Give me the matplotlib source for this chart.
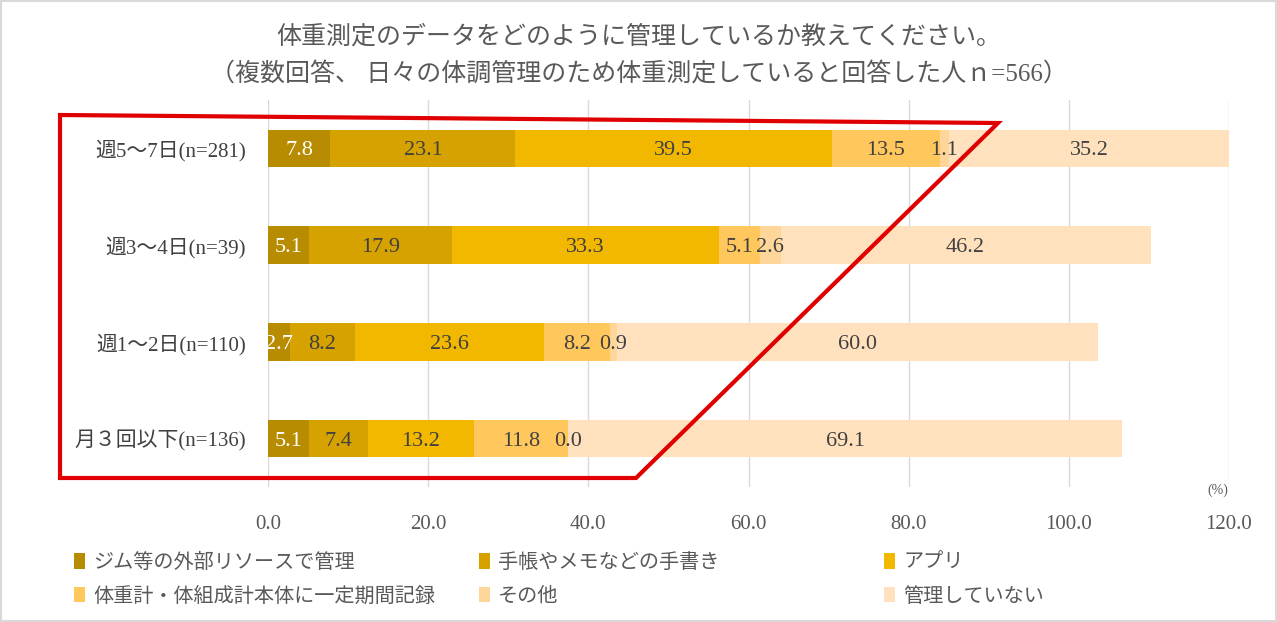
import numpy as np
import matplotlib.pyplot as plt
from matplotlib.patches import Polygon, Rectangle

plt.rcParams['font.family'] = ['Liberation Serif', 'Noto Sans CJK JP', 'DejaVu Sans']

# ----------------------------------------------------------------------
# Data
# ----------------------------------------------------------------------
categories = ["週5〜7日(n=281)", "週3〜4日(n=39)", "週1〜2日(n=110)", "月３回以下(n=136)"]
series_names = ["ジム等の外部リソースで管理", "手帳やメモなどの手書き", "アプリ",
                "体重計・体組成計本体に一定期間記録", "その他", "管理していない"]
gym = [7.8, 5.1, 2.7, 5.1]
handwritten = [23.1, 17.9, 8.2, 7.4]
app = [39.5, 33.3, 23.6, 13.2]
scale_memory = [13.5, 5.1, 8.2, 11.8]
other = [1.1, 2.6, 0.9, 0.0]
not_managed = [35.2, 46.2, 60.0, 69.1]
x_ticks = [0, 20, 40, 60, 80, 100, 120]

series = [gym, handwritten, app, scale_memory, other, not_managed]
colors = ["#B88C00", "#D6A200", "#F2B800", "#FFC75C", "#FFD699", "#FFE2BD"]
label_colors = ["white", "#404040", "#404040", "#404040", "#404040", "#404040"]

fig = plt.figure(figsize=(12.77, 6.22), dpi=100)
ax = fig.add_axes([268 / 1277, 1 - 487 / 622, 961 / 1277, 387 / 622])

y = np.arange(len(categories))
left = np.zeros(len(categories))
handles = []
for name, vals, col, lcol in zip(series_names, series, colors, label_colors):
    vals = np.array(vals)
    bars = ax.barh(y, vals, left=left, height=0.39, color=col, label=name, zorder=2)
    handles.append(bars)
    for yi, (l, v) in enumerate(zip(left, vals)):
        ax.text(l + v / 2, yi, f"{v:.1f}", ha="center", va="center_baseline",
                fontsize=16, color=lcol, zorder=3)
    left += vals

ax.set_xlim(0, 120)
ax.set_ylim(3.5, -0.5)
ax.set_xticks(x_ticks)
ax.set_xticklabels([f"{t:.1f}" for t in x_ticks])
ax.set_yticks(y)
ax.set_yticklabels(categories)
ax.tick_params(axis="x", length=0, pad=20, labelsize=15, labelcolor="#595959")
ax.tick_params(axis="y", length=0, pad=16, labelsize=15, labelcolor="#404040")
ax.grid(axis="x", color="#D9D9D9", linewidth=1, zorder=0)
for s in ax.spines.values():
    s.set_visible(False)

fig.text(1218 / 1277, 1 - 490 / 622, "(%)", fontsize=10, color="#595959",
         ha="center", va="center")

# title
fig.text(0.5, 1 - 37 / 622, "体重測定のデータをどのように管理しているか教えてください。",
         ha="center", va="center", fontsize=18, color="#595959")
fig.text(0.5, 1 - 75 / 622, "（複数回答、 日々の体調管理のため体重測定していると回答した人ｎ=566）",
         ha="center", va="center", fontsize=18, color="#595959")

# legend: three columns, two rows
col_x = [56, 461, 866]
for i, cx in enumerate(col_x):
    fig.legend([handles[i], handles[i + 3]], [series_names[i], series_names[i + 3]],
               loc="upper left", bbox_to_anchor=(cx / 1277, 1 - 535 / 622),
               frameon=False, fontsize=14.5, handlelength=0.55, handleheight=0.8,
               handletextpad=0.4, labelspacing=0.7, labelcolor="#595959")

# red highlight outline
pts = [(60, 115), (998, 123), (636, 478), (60, 478)]
fig.patches.append(Polygon([(px / 1277, 1 - py / 622) for px, py in pts], closed=True,
                           fill=False, edgecolor="#E00000", linewidth=3,
                           transform=fig.transFigure, zorder=10))

# outer frame
fig.patches.append(Rectangle((0.001, 0.002), 0.998, 0.996, fill=False, edgecolor="#D9D9D9",
                             linewidth=1.5, transform=fig.transFigure))

fig.savefig("out.png", dpi=100)
